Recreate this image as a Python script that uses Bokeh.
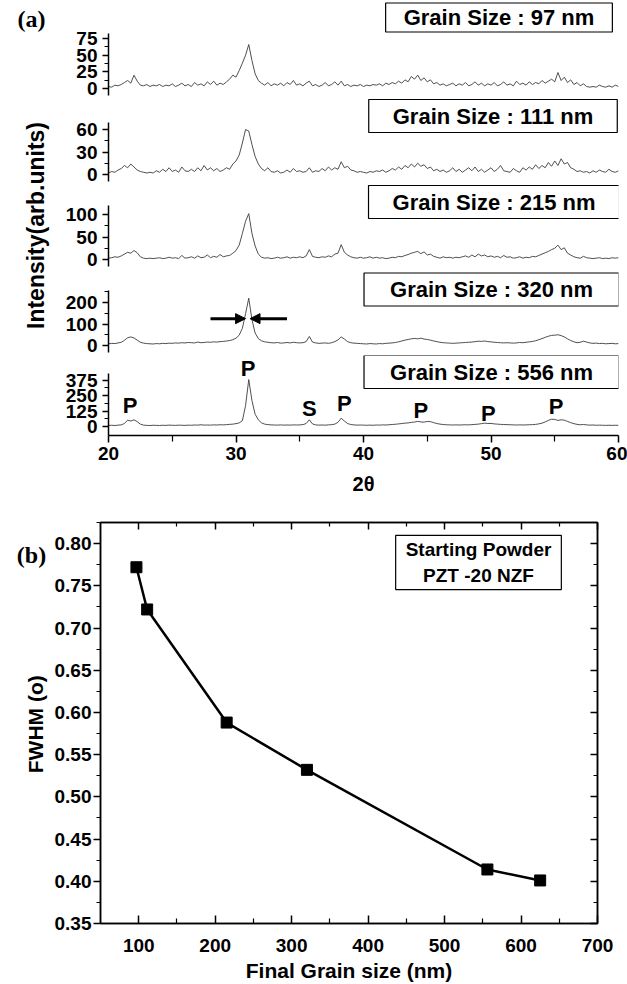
from bokeh.plotting import figure
from bokeh.models import (Range1d, FixedTicker, Label, Arrow, NormalHead,
                          LinearAxis, PrintfTickFormatter)
from bokeh.layouts import column, row
from bokeh.embed import file_html
from bokeh.resources import INLINE

# ---------------- data : panel (a) XRD patterns ----------------
two_theta = [
    20.0, 20.25, 20.5, 20.75, 21.0, 21.25, 21.5, 21.75, 22.0, 22.25, 22.5, 22.75, 23.0, 23.25, 23.5, 23.75, 24.0, 24.25, 24.5, 24.75,
    25.0, 25.25, 25.5, 25.75, 26.0, 26.25, 26.5, 26.75, 27.0, 27.25, 27.5, 27.75, 28.0, 28.25, 28.5, 28.75, 29.0, 29.25, 29.5, 29.75,
    30.0, 30.25, 30.5, 30.75, 31.0, 31.25, 31.5, 31.75, 32.0, 32.25, 32.5, 32.75, 33.0, 33.25, 33.5, 33.75, 34.0, 34.25, 34.5, 34.75,
    35.0, 35.25, 35.5, 35.75, 36.0, 36.25, 36.5, 36.75, 37.0, 37.25, 37.5, 37.75, 38.0, 38.25, 38.5, 38.75, 39.0, 39.25, 39.5, 39.75,
    40.0, 40.25, 40.5, 40.75, 41.0, 41.25, 41.5, 41.75, 42.0, 42.25, 42.5, 42.75, 43.0, 43.25, 43.5, 43.75, 44.0, 44.25, 44.5, 44.75,
    45.0, 45.25, 45.5, 45.75, 46.0, 46.25, 46.5, 46.75, 47.0, 47.25, 47.5, 47.75, 48.0, 48.25, 48.5, 48.75, 49.0, 49.25, 49.5, 49.75,
    50.0, 50.25, 50.5, 50.75, 51.0, 51.25, 51.5, 51.75, 52.0, 52.25, 52.5, 52.75, 53.0, 53.25, 53.5, 53.75, 54.0, 54.25, 54.5, 54.75,
    55.0, 55.25, 55.5, 55.75, 56.0, 56.25, 56.5, 56.75, 57.0, 57.25, 57.5, 57.75, 58.0, 58.25, 58.5, 58.75, 59.0, 59.25, 59.5, 59.75,
    60.0]

int_97 = [
    3, 2, 5, 4, 6, 9, 12, 8, 20, 11, 5, 4, 6, 3, 5, 4, 6, 3, 5, 4,
    7, 3, 5, 8, 4, 6, 3, 9, 5, 7, 4, 10, 6, 11, 5, 8, 6, 10, 14, 20,
    17, 27, 38, 50, 66, 42, 22, 12, 8, 5, 9, 4, 7, 5, 8, 4, 9, 6, 12, 5,
    7, 4, 8, 11, 4, 6, 3, 5, 9, 4, 6, 10, 5, 11, 4, 6, 3, 5, 4, 6,
    3, 5, 4, 6, 5, 7, 4, 8, 6, 9, 7, 11, 8, 13, 10, 18, 14, 20, 12, 16,
    10, 13, 7, 9, 5, 7, 4, 6, 8, 4, 7, 5, 9, 4, 6, 10, 5, 8, 4, 7,
    5, 9, 4, 6, 10, 5, 7, 4, 11, 6, 8, 5, 10, 6, 9, 7, 12, 8, 11, 14,
    10, 24, 12, 17, 9, 13, 6, 9, 4, 7, 3, 2, 3, 2, 5, 3, 2, 4, 2, 5,
    3]

int_111 = [
    2, 4, 3, 6, 8, 12, 9, 14, 10, 6, 4, 3, 2, 3, 2, 5, 3, 7, 4, 9,
    4, 6, 3, 10, 5, 4, 7, 4, 9, 5, 12, 6, 9, 5, 8, 4, 6, 9, 7, 14,
    18, 26, 42, 60, 58, 40, 24, 14, 8, 5, 9, 4, 3, 5, 2, 3, 6, 3, 8, 4,
    5, 3, 4, 9, 3, 5, 4, 8, 5, 10, 6, 9, 7, 17, 9, 11, 6, 5, 3, 4,
    3, 2, 4, 3, 5, 4, 6, 3, 5, 8, 6, 10, 7, 12, 9, 14, 10, 15, 11, 13,
    8, 10, 5, 7, 4, 6, 3, 5, 9, 4, 7, 3, 6, 9, 5, 10, 4, 7, 3, 6,
    9, 4, 7, 12, 5, 4, 3, 8, 5, 3, 9, 6, 10, 7, 13, 8, 12, 9, 16, 11,
    18, 12, 21, 14, 16, 9, 7, 4, 5, 3, 4, 2, 5, 3, 6, 4, 3, 7, 4, 3,
    5]

int_215 = [
    3, 4, 6, 5, 8, 12, 16, 14, 20, 15, 6, 3, 2, 3, 2, 3, 4, 2, 3, 5,
    3, 4, 2, 9, 3, 4, 6, 3, 8, 4, 5, 10, 4, 7, 5, 11, 6, 8, 9, 14,
    20, 32, 58, 85, 102, 58, 30, 12, 5, 3, 4, 2, 3, 5, 3, 4, 6, 3, 5, 4,
    6, 4, 8, 22, 7, 5, 4, 6, 5, 8, 6, 12, 14, 33, 16, 10, 6, 4, 3, 5,
    3, 4, 6, 3, 5, 3, 4, 2, 3, 5, 4, 7, 6, 9, 11, 14, 16, 18, 13, 17,
    10, 12, 7, 5, 3, 6, 4, 5, 3, 5, 4, 6, 8, 5, 10, 6, 12, 8, 10, 6,
    8, 5, 7, 4, 9, 5, 6, 3, 4, 6, 3, 5, 4, 7, 6, 9, 12, 15, 18, 22,
    25, 32, 22, 26, 14, 10, 6, 4, 3, 7, 4, 3, 2, 3, 4, 2, 3, 2, 4, 3,
    4]

int_320 = [
    8, 10, 9, 12, 15, 24, 36, 40, 35, 25, 15, 11, 9, 8, 7, 9, 8, 10, 9, 11,
    10, 12, 11, 13, 12, 14, 13, 12, 16, 13, 14, 16, 15, 17, 16, 18, 19, 21, 23, 27,
    34, 48, 80, 148, 220, 120, 58, 32, 22, 17, 15, 13, 12, 14, 11, 12, 14, 12, 15, 13,
    12, 13, 18, 42, 16, 12, 10, 11, 12, 10, 13, 18, 26, 40, 30, 18, 13, 11, 10, 9,
    8, 7, 9, 8, 7, 9, 8, 10, 11, 12, 14, 17, 21, 25, 28, 31, 33, 31, 34, 30,
    28, 25, 21, 18, 15, 13, 12, 11, 10, 11, 12, 13, 14, 15, 16, 18, 20, 19, 21, 18,
    17, 15, 14, 13, 12, 13, 12, 11, 12, 14, 13, 15, 17, 19, 22, 27, 32, 38, 43, 47,
    48, 50, 46, 40, 31, 23, 17, 13, 15, 20, 16, 12, 10, 11, 9, 10, 8, 9, 10, 8,
    9]

int_556 = [
    10, 11, 9, 12, 14, 25, 52, 45, 55, 40, 20, 12, 10, 9, 11, 10, 9, 11, 10, 12,
    11, 10, 12, 11, 10, 12, 11, 13, 12, 15, 12, 13, 12, 14, 13, 15, 14, 16, 18, 20,
    24, 30, 48, 170, 380, 210, 100, 55, 30, 20, 16, 14, 13, 12, 14, 12, 13, 12, 14, 13,
    14, 16, 25, 55, 22, 14, 12, 13, 12, 14, 16, 20, 35, 68, 45, 25, 17, 14, 12, 13,
    12, 11, 12, 11, 13, 12, 14, 13, 15, 17, 19, 22, 25, 28, 30, 34, 37, 42, 38, 36,
    42, 40, 32, 25, 20, 17, 15, 14, 13, 14, 13, 14, 15, 14, 16, 18, 20, 24, 28, 25,
    26, 22, 20, 18, 17, 16, 15, 14, 13, 14, 13, 14, 15, 16, 18, 22, 28, 38, 50, 60,
    58, 50, 55, 52, 42, 32, 24, 18, 15, 17, 14, 12, 13, 11, 12, 11, 10, 11, 10, 11,
    10]

series_a = [int_97, int_111, int_215, int_320, int_556]
grain_labels = ["Grain Size : 97 nm", "Grain Size : 111 nm", "Grain Size : 215 nm",
                "Grain Size : 320 nm", "Grain Size : 556 nm"]
y_ticks_a = [[0, 25, 50, 75], [0, 30, 60], [0, 50, 100], [0, 100, 200], [0, 125, 250, 375]]
y_minor_a = [[12.5, 37.5, 62.5], [15, 45], [25, 75], [50, 150, 250], [62.5, 187.5, 312.5]]
x_ticks_a = [20, 30, 40, 50, 60]
x_minor_a = [25, 35, 45, 55]

peak_text = ["P", "P", "S", "P", "P", "P", "P"]
peak_x = [21.7, 30.95, 35.75, 38.5, 44.5, 49.8, 55.1]
peak_y = [172, 466, 148, 190, 133, 109, 160]

# ---------------- data : panel (b) ----------------
grain_size = [97, 111, 215, 320, 556, 625]
fwhm = [0.772, 0.722, 0.588, 0.532, 0.414, 0.401]
x_ticks_b = [100, 200, 300, 400, 500, 600, 700]
x_minor_b = [150, 250, 350, 450, 550, 650]
y_ticks_b = [0.35, 0.40, 0.45, 0.50, 0.55, 0.60, 0.65, 0.70, 0.75, 0.80]
y_minor_b = [0.375, 0.425, 0.475, 0.525, 0.575, 0.625, 0.675, 0.725, 0.775, 0.825]

# ---------------- layout constants ----------------
FONT = "Liberation Sans"
SERIF = "Liberation Serif"
LINE_C = "#3c3c3c"
LABEL_W = 50
A_W = 627 - LABEL_W
A_LEFT = 58
A_RIGHT = 9
fig_h = [98, 86, 85, 86, 142]
fig_bot = [0, 0, 0, 0, 61]
# full frame range of each sub-panel, and the span of its drawn axis
y_lims = [(-15, 132), (-13.3, 101.3), (-22.2, 166.7), (-46.5, 353.5), (-71.8, 574.6)]
y_bounds = [(-10.5, 82.5), (-9.3, 69.3), (-15.6, 120), (-32.6, 255.8), (-71.8, 431)]
box_center = [(498.5, 17), (492.5, 115.5), (493.5, 201.5), (491, 289), (491, 372.5)]
box_pad = [dict(x=18, y=2), dict(x=24, y=4), dict(x=24, y=4), dict(x=26, y=4), dict(x=26, y=4)]
TICK_FS = "19px"


def style_axis(ax, size=TICK_FS):
    ax.major_label_text_font = FONT
    ax.major_label_text_font_style = "bold"
    ax.major_label_text_font_size = size
    ax.major_label_text_color = "black"
    ax.axis_line_color = "black"
    ax.axis_line_width = 1.5
    ax.major_tick_line_color = "black"
    ax.minor_tick_line_color = "black"
    ax.major_tick_line_width = 1.5
    ax.minor_tick_line_width = 1.2
    ax.axis_label_text_font = FONT
    ax.axis_label_text_font_style = "bold"
    ax.axis_label_text_color = "black"


figs = []
top_global = 0
for i in range(5):
    last = (i == 4)
    p = figure(width=A_W, height=fig_h[i], title=None, toolbar_location=None,
               output_backend="svg", x_range=Range1d(20, 60),
               y_range=Range1d(*y_lims[i]),
               x_axis_location="below" if last else None,
               min_border_left=A_LEFT, min_border_right=A_RIGHT,
               min_border_top=0, min_border_bottom=fig_bot[i],
               outline_line_color=None)
    p.grid.visible = False
    p.line(two_theta, series_a[i], line_color=LINE_C, line_width=0.9)
    ya = p.yaxis[0]
    ya.ticker = FixedTicker(ticks=y_ticks_a[i], minor_ticks=y_minor_a[i])
    ya.bounds = y_bounds[i]
    style_axis(ya)
    ya.major_tick_in = 0
    ya.major_tick_out = 6
    ya.minor_tick_in = 0
    ya.minor_tick_out = 4
    ya.major_label_standoff = 5
    if last:
        xa = p.xaxis[0]
        xa.ticker = FixedTicker(ticks=x_ticks_a, minor_ticks=x_minor_a)
        style_axis(xa)
        xa.major_tick_in = 0
        xa.major_tick_out = 7
        xa.minor_tick_in = 0
        xa.minor_tick_out = 6
        xa.major_label_standoff = 4
        xa.axis_label = "2θ"
        xa.axis_label_text_font_size = "20px"
        xa.axis_label_standoff = 10
    frame_bottom = top_global + fig_h[i] - fig_bot[i]
    cx, cy = box_center[i]
    p.add_layout(Label(x=cx - (LABEL_W + A_LEFT), y=frame_bottom - cy,
                       x_units="screen", y_units="screen", text=grain_labels[i],
                       text_font=FONT, text_font_style="bold", text_font_size="22px",
                       text_color="black", text_align="center", text_baseline="middle",
                       border_line_color="black", border_line_width=1.2,
                       background_fill_color="white", padding=box_pad[i]))
    if i == 3:
        p.add_layout(Arrow(end=NormalHead(size=10, fill_color="black", line_color="black"),
                           x_start=28.0, y_start=125, x_end=30.75, y_end=125,
                           line_width=3, line_color="black"))
        p.add_layout(Arrow(end=NormalHead(size=10, fill_color="black", line_color="black"),
                           x_start=34.0, y_start=125, x_end=31.1, y_end=125,
                           line_width=3, line_color="black"))
    if last:
        for t, px, py in zip(peak_text, peak_x, peak_y):
            p.add_layout(Label(x=px, y=py, text=t, text_font=FONT, text_font_style="bold",
                               text_font_size="22px", text_color="black",
                               text_align="center", text_baseline="middle"))
    figs.append(p)
    top_global += fig_h[i]

A_H = sum(fig_h)


def strip(height):
    # y runs downward so label positions read as pixels from the strip's top
    s = figure(width=LABEL_W, height=height, title=None, toolbar_location=None,
               output_backend="svg", x_range=Range1d(0, LABEL_W),
               y_range=Range1d(height, 0),
               x_axis_location=None, y_axis_location=None, min_border=0,
               outline_line_color=None)
    s.grid.visible = False
    return s


lab = strip(A_H)
lab.add_layout(Label(x=31, y=18, text="(a)",
                     text_font=SERIF, text_font_style="bold", text_font_size="24px",
                     text_color="black", text_align="center", text_baseline="middle"))
lab.add_layout(Label(x=35, y=225, text="Intensity(arb.units)", angle=90, angle_units="deg",
                     text_font=FONT, text_font_style="bold", text_font_size="23px",
                     text_color="black", text_align="center", text_baseline="middle"))

# ---------------- panel (b) ----------------
B_H = 984 - A_H
B_BOT = 56
fb = figure(width=627 - LABEL_W, height=B_H, title=None, toolbar_location=None,
            output_backend="svg", x_range=Range1d(50, 700), y_range=Range1d(0.35, 0.825),
            min_border_left=100 - LABEL_W, min_border_right=30, min_border_top=25,
            min_border_bottom=B_BOT, outline_line_color="black", outline_line_width=1.5)
fb.grid.visible = False
fb.line(grain_size, fwhm, line_color="black", line_width=2.5)
fb.scatter(grain_size, fwhm, marker="square", size=11, color="black")

xb = fb.xaxis[0]
xb.ticker = FixedTicker(ticks=x_ticks_b, minor_ticks=x_minor_b)
style_axis(xb)
xb.major_tick_in = 8
xb.major_tick_out = 0
xb.minor_tick_in = 5
xb.minor_tick_out = 0
xb.major_label_standoff = 15
xb.axis_label = "Final Grain size (nm)"
xb.axis_label_text_font_size = "21px"
xb.axis_label_standoff = 4

yb = fb.yaxis[0]
yb.ticker = FixedTicker(ticks=y_ticks_b, minor_ticks=y_minor_b)
yb.formatter = PrintfTickFormatter(format="%.2f")
style_axis(yb)
yb.major_tick_in = 0
yb.major_tick_out = 7
yb.minor_tick_in = 0
yb.minor_tick_out = 4
yb.major_label_standoff = 2

top_ax = LinearAxis(ticker=FixedTicker(ticks=x_ticks_b, minor_ticks=x_minor_b))
right_ax = LinearAxis(ticker=FixedTicker(ticks=y_ticks_b, minor_ticks=y_minor_b))
for ax in (top_ax, right_ax):
    style_axis(ax, size="1px")
    ax.major_label_text_color = None
    ax.major_tick_in = 7
    ax.major_tick_out = 0
    ax.minor_tick_in = 4
    ax.minor_tick_out = 0
    ax.major_label_standoff = 0
fb.add_layout(top_ax, "above")
fb.add_layout(right_ax, "right")

FB_FRAME_BOTTOM_G = 984 - B_BOT  # global y of panel (b) frame bottom
fb.add_layout(Label(x=478 - 100, y=FB_FRAME_BOTTOM_G - 567, x_units="screen",
                    y_units="screen", text="Starting Powder\nPZT -20 NZF",
                    text_font=FONT, text_font_style="bold", text_font_size="19px",
                    text_color="black", text_align="center", text_baseline="middle",
                    border_line_color="black", border_line_width=1.2,
                    background_fill_color="white", padding=dict(x=10, y=4)))

lab_b = strip(B_H)
lab_b.add_layout(Label(x=31, y=537 - A_H, text="(b)",
                       text_font=SERIF, text_font_style="bold", text_font_size="24px",
                       text_color="black", text_align="center", text_baseline="middle"))
lab_b.add_layout(Label(x=35, y=742 - A_H, text="FWHM (o)", angle=90, angle_units="deg",
                       text_font=FONT, text_font_style="bold", text_font_size="21px",
                       text_color="black", text_align="center", text_baseline="middle"))

layout = column(row(lab, column(*figs)), row(lab_b, fb))
open("out.html", "w").write(file_html(layout, INLINE))
